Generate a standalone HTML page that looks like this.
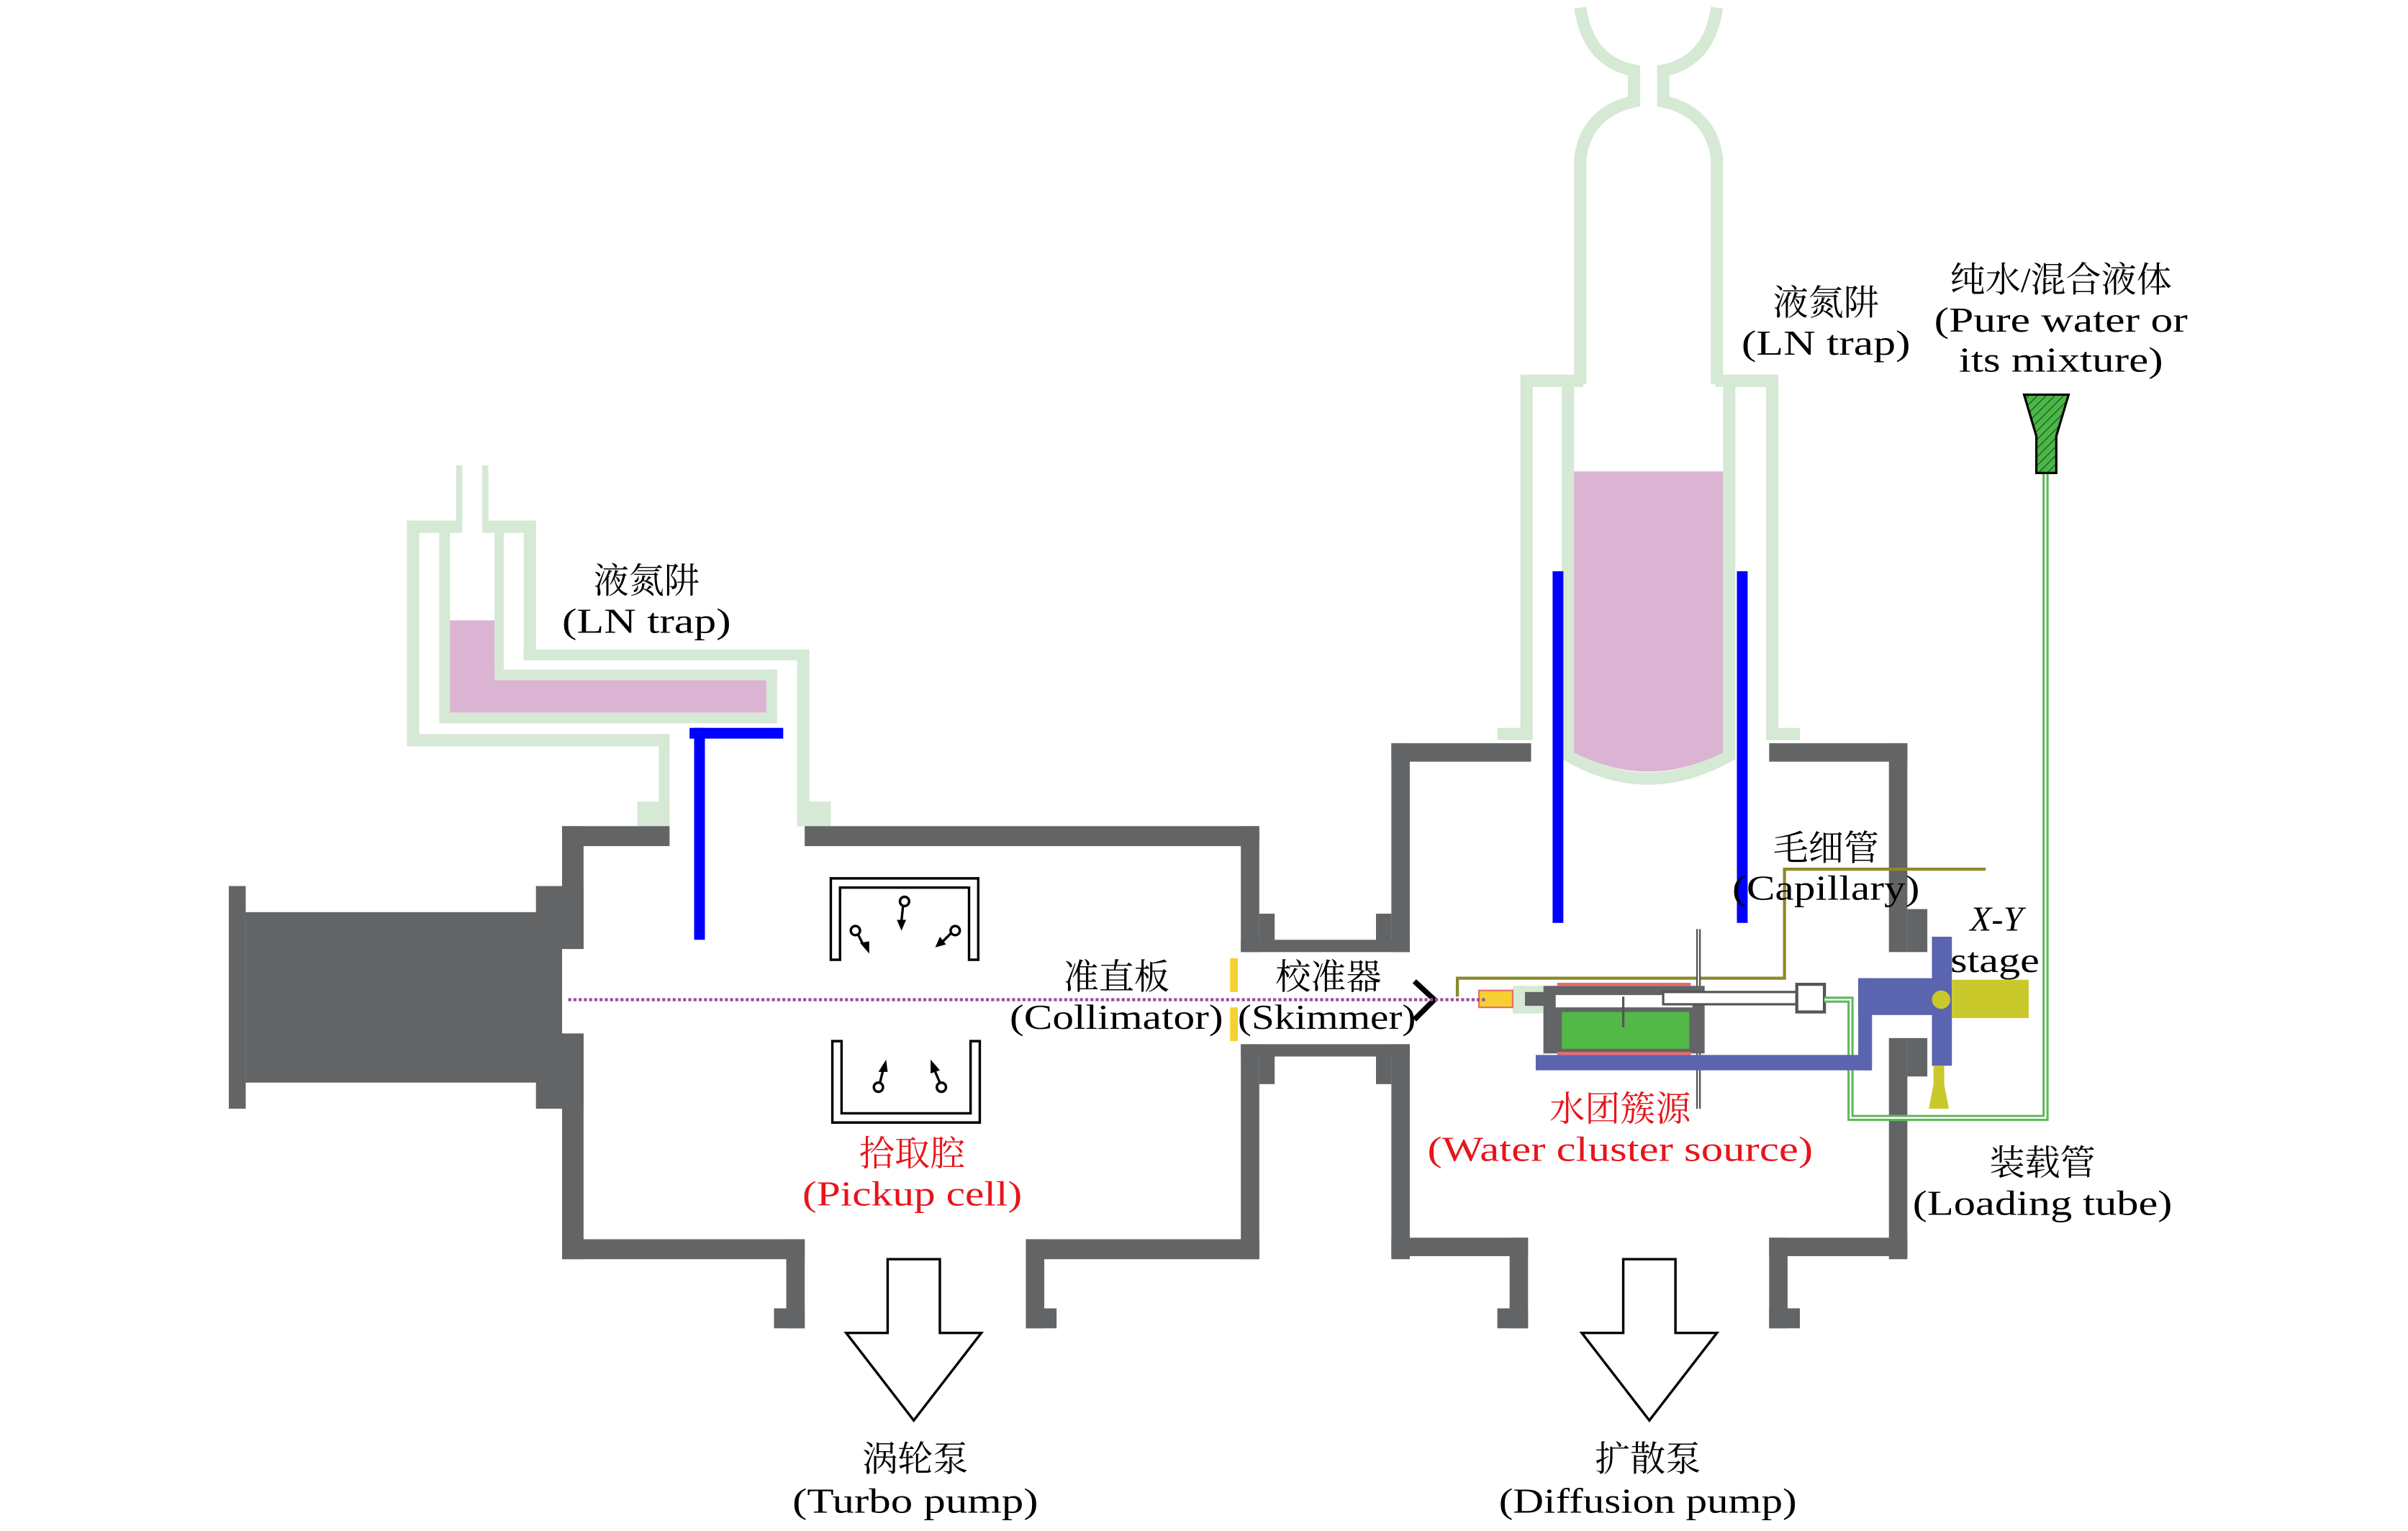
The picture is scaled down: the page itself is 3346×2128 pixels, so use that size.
<!DOCTYPE html>
<html><head><meta charset="utf-8"><style>
html,body{margin:0;padding:0;background:#fff;}
svg{display:block;}
text{font-family:"Liberation Serif","Noto Serif CJK SC",serif;font-size:23px;fill:#000;}
.r{fill:#e8141b;}
</style></head><body>
<svg width="3346" height="2128" viewBox="0 0 1568 997" preserveAspectRatio="none" xmlns="http://www.w3.org/2000/svg">
<defs>
<pattern id="hat" width="4" height="4" patternUnits="userSpaceOnUse" patternTransform="rotate(45)">
<rect width="4" height="4" fill="#4cb648"/><line x1="0" y1="0" x2="0" y2="4" stroke="#1d5a1d" stroke-width="1.2"/>
</pattern>
</defs>
<rect width="1568" height="997" fill="#fff"/>

<!-- Left LN trap -->
<g fill="#d5e9d4">
<rect x="297" y="303" width="4" height="40"/><rect x="314" y="303" width="4" height="40"/>
<rect x="265" y="339" width="36" height="8"/><rect x="314" y="339" width="35" height="8"/>
<rect x="265" y="339" width="8" height="147"/>
<rect x="265" y="478" width="171" height="8"/>
<rect x="429" y="478" width="7" height="60"/><rect x="415" y="522" width="21" height="16"/>
<rect x="341" y="339" width="8" height="91"/>
<rect x="341" y="423" width="186" height="7"/>
<rect x="519" y="423" width="8" height="115"/><rect x="519" y="522" width="22" height="16"/>
<rect x="286" y="346" width="7" height="125"/>
<rect x="286" y="464" width="220" height="7"/>
<rect x="499" y="436" width="7" height="35"/>
<rect x="322" y="436" width="184" height="7"/>
<rect x="322" y="346" width="6" height="97"/>
</g>
<g fill="#dbb3d3"><rect x="293" y="443" width="206" height="21"/><rect x="293" y="404" width="29" height="40"/></g>
<g fill="#0000ff"><rect x="449" y="474" width="61" height="7"/><rect x="452" y="474" width="7" height="138"/></g>

<!-- Left chamber walls -->
<g fill="#636466">
<rect x="366" y="538" width="70" height="13"/>
<rect x="524" y="538" width="296" height="13"/>
<rect x="366" y="538" width="14" height="80"/>
<rect x="366" y="673" width="14" height="147"/>
<rect x="160" y="594" width="206" height="111"/>
<rect x="149" y="577" width="11" height="145"/>
<rect x="349" y="577" width="31" height="41"/>
<rect x="349" y="673" width="31" height="49"/>
<rect x="366" y="807" width="158" height="13"/>
<rect x="668" y="807" width="152" height="13"/>
<rect x="512" y="807" width="12" height="58"/><rect x="504" y="852" width="20" height="13"/>
<rect x="668" y="807" width="12" height="58"/><rect x="668" y="852" width="20" height="13"/>
<rect x="808" y="538" width="12" height="82"/>
<rect x="808" y="680" width="12" height="140"/>
<rect x="808" y="612" width="110" height="8"/>
<rect x="808" y="680" width="110" height="8"/>
<rect x="820" y="595" width="10" height="20"/>
<rect x="820" y="686" width="10" height="20"/>
<rect x="896" y="595" width="10" height="20"/>
<rect x="896" y="686" width="10" height="20"/>
<rect x="906" y="484" width="12" height="136"/>
<rect x="906" y="680" width="12" height="140"/>
<rect x="906" y="484" width="91" height="12"/>
<rect x="1152" y="484" width="90" height="12"/>
<rect x="1230" y="484" width="12" height="136"/>
<rect x="1242" y="592" width="13" height="28"/>
<rect x="1230" y="676" width="12" height="144"/>
<rect x="1242" y="676" width="13" height="25"/>
<rect x="906" y="806" width="89" height="12"/>
<rect x="1152" y="806" width="90" height="12"/>
<rect x="983" y="806" width="12" height="59"/><rect x="975" y="852" width="20" height="13"/>
<rect x="1152" y="806" width="12" height="59"/><rect x="1152" y="852" width="20" height="13"/>
</g>

<g fill="#f5d030"><rect x="801" y="624" width="5" height="22"/><rect x="801" y="656" width="5" height="22"/></g>
<polyline points="921,639 934,651 921,664" fill="none" stroke="#000" stroke-width="3.5"/>

<!-- Dewar -->
<g fill="none" stroke="#d5e9d4" stroke-width="8">
<polyline points="975,478 994,478 994,248 1031,248"/>
<polyline points="1117,248 1154,248 1154,478 1172,478"/>
<path d="M1021,248 V492 Q1073,522 1126,492 V248"/>
<path d="M1029,250 V103 Q1033,73 1064,66 V46 Q1034,40 1029,5"/>
<path d="M1118,250 V103 Q1114,73 1083,66 V46 Q1113,40 1118,5"/>
</g>
<path d="M1025,307 H1122 V490 Q1073,515 1025,490 Z" fill="#dbb3d3"/>
<g fill="#0000ff"><rect x="1011" y="372" width="7" height="229"/><rect x="1131" y="372" width="7" height="229"/></g>

<polyline points="1293,566 1162,566 1162,637 949,637 949,649" fill="none" stroke="#8b8a2a" stroke-width="2"/>

<!-- source -->
<line x1="1106" y1="605" x2="1106" y2="722" stroke="#555" stroke-width="3"/>
<line x1="1106" y1="605" x2="1106" y2="722" stroke="#fff" stroke-width="0.8"/>
<rect x="1005" y="642" width="105" height="44" fill="#636466"/>
<rect x="1013" y="648" width="89" height="8" fill="#fff"/>
<rect x="1017" y="659" width="83" height="24" fill="#52b848"/>
<line x1="1014" y1="641" x2="1101" y2="641" stroke="#e86a6a" stroke-width="2"/>
<line x1="1014" y1="686" x2="1101" y2="686" stroke="#e86a6a" stroke-width="2"/>
<rect x="1083" y="646" width="90" height="8" fill="#fff" stroke="#555" stroke-width="1.5"/>
<rect x="1170" y="641" width="18" height="18" fill="#fff" stroke="#555" stroke-width="2"/>
<rect x="985" y="642" width="20" height="18" fill="#d5e9d4"/>
<rect x="993" y="646" width="14" height="9" fill="#636466"/>
<rect x="963" y="645" width="22" height="11" fill="#f5d030" stroke="#e86a6a" stroke-width="1"/>
<line x1="1057" y1="649" x2="1057" y2="669" stroke="#555" stroke-width="1.5"/>

<line x1="370" y1="651" x2="968" y2="651" stroke="#9b4f9b" stroke-width="2" stroke-dasharray="2,1.4"/>

<polyline points="1188,651 1205,651 1205,728 1332,728 1332,305" fill="none" stroke="#5cb85c" stroke-width="4"/>
<polyline points="1188,651 1205,651 1205,728 1332,728 1332,305" fill="none" stroke="#fff" stroke-width="1.1"/>
<polygon points="1318,257 1347,257 1339,284 1339,308 1326,308 1326,284" fill="url(#hat)" stroke="#000" stroke-width="1.5"/>

<g fill="#5b64ae">
<rect x="1000" y="687" width="218" height="10"/>
<rect x="1210" y="637" width="9" height="60"/>
<rect x="1210" y="637" width="50" height="24"/>
<rect x="1258" y="610" width="13" height="84"/>
</g>
<g fill="#c9c92b">
<circle cx="1264" cy="651" r="6"/>
<rect x="1271" y="638" width="50" height="25"/>
<rect x="1259" y="694" width="7" height="16"/>
<polygon points="1256,722 1269,722 1266,706 1259,706"/>
</g>

<g fill="none" stroke="#000" stroke-width="1.6">
<path d="M541,625 V572 H637 V625 H631 V578 H547 V625 Z"/>
<path d="M542,678 V731 H638 V678 H632 V725 H548 V678 Z"/>
<circle cx="589" cy="587" r="3"/><line x1="588" y1="590" x2="587" y2="600"/>
<circle cx="557" cy="606" r="3"/><line x1="559" y1="609" x2="562" y2="615"/>
<circle cx="622" cy="606" r="3"/><line x1="619" y1="608" x2="614" y2="613"/>
<circle cx="572" cy="708" r="3"/><line x1="573" y1="705" x2="575" y2="697"/>
<circle cx="613" cy="708" r="3"/><line x1="612" y1="705" x2="609" y2="698"/>
</g>
<g fill="#000">
<polygon points="584,599 590,599 587,606"/>
<polygon points="560,614 566,613 566,621"/>
<polygon points="612,610 616,615 609,617"/>
<polygon points="572,698 578,698 577,690"/>
<polygon points="606,699 612,697 606,690"/>
</g>

<g fill="#fff" stroke="#000" stroke-width="1.6">
<polygon points="578,820 612,820 612,868 639,868 595,925 551,868 578,868"/>
<polygon points="1057,820 1091,820 1091,868 1118,868 1074,925 1030,868 1057,868"/>
</g>

<g text-anchor="middle" lengthAdjust="spacingAndGlyphs">
<text x="421" y="386">液氮阱</text>
<text x="421" y="412" textLength="110" lengthAdjust="spacingAndGlyphs">(LN trap)</text>
<text x="1189" y="205">液氮阱</text>
<text x="1189" y="231" textLength="110" lengthAdjust="spacingAndGlyphs">(LN trap)</text>
<text x="1342" y="190">纯水/混合液体</text>
<text x="1342" y="216" textLength="165" lengthAdjust="spacingAndGlyphs">(Pure water or</text>
<text x="1342" y="242" textLength="133" lengthAdjust="spacingAndGlyphs">its mixture)</text>
<text x="1189" y="560">毛细管</text>
<text x="1189" y="586" textLength="122" lengthAdjust="spacingAndGlyphs">(Capillary)</text>
<text x="1300" y="606" font-style="italic">X-Y</text>
<text x="1299" y="633" textLength="58" lengthAdjust="spacingAndGlyphs">stage</text>
<text x="727" y="644">准直板</text>
<text x="727" y="670" textLength="139" lengthAdjust="spacingAndGlyphs">(Collimator)</text>
<text x="865" y="644">校准器</text>
<text x="864" y="670" textLength="116" lengthAdjust="spacingAndGlyphs">(Skimmer)</text>
<text class="r" x="1055" y="730">水团簇源</text>
<text class="r" x="1055" y="756" textLength="251" lengthAdjust="spacingAndGlyphs">(Water cluster source)</text>
<text class="r" x="594" y="759">拾取腔</text>
<text class="r" x="594" y="785" textLength="143" lengthAdjust="spacingAndGlyphs">(Pickup cell)</text>
<text x="1330" y="765">装载管</text>
<text x="1330" y="791" textLength="169" lengthAdjust="spacingAndGlyphs">(Loading tube)</text>
<text x="596" y="958">涡轮泵</text>
<text x="596" y="985" textLength="160" lengthAdjust="spacingAndGlyphs">(Turbo pump)</text>
<text x="1073" y="958">扩散泵</text>
<text x="1073" y="985" textLength="194" lengthAdjust="spacingAndGlyphs">(Diffusion pump)</text>
</g>
</svg>
</body></html>
